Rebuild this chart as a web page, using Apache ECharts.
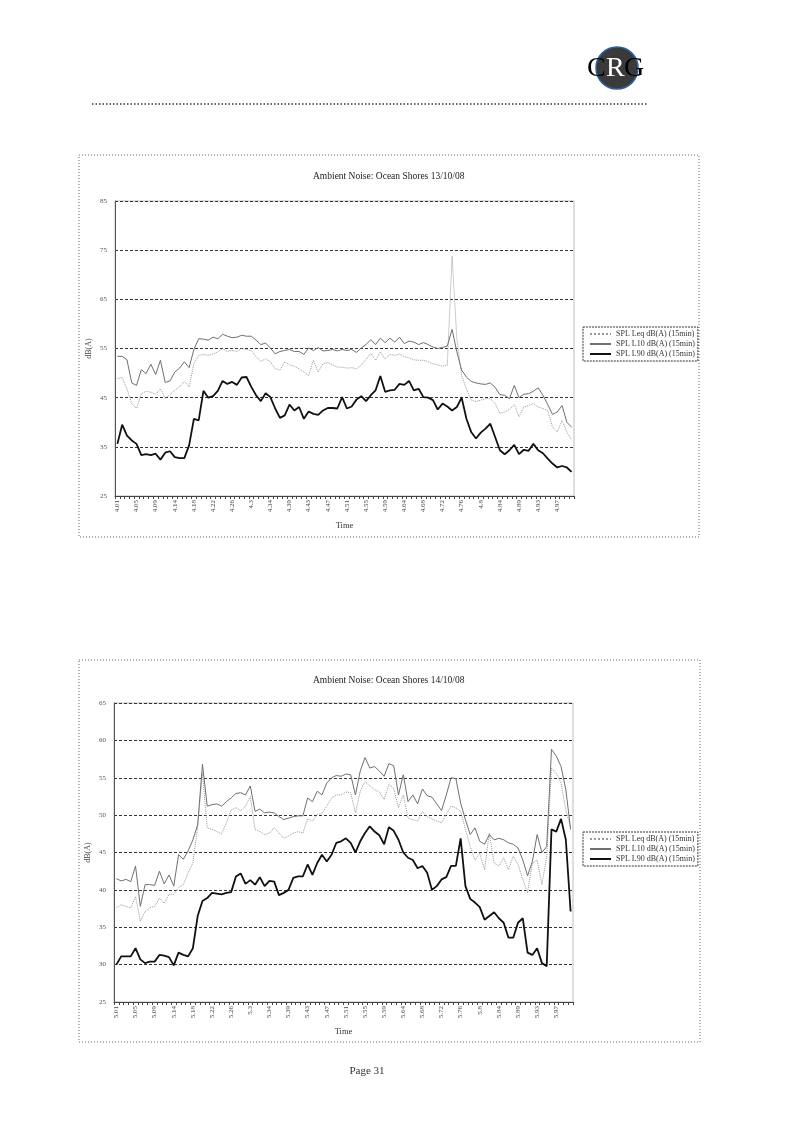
<!DOCTYPE html>
<html>
<head>
<meta charset="utf-8">
<script src="https://cdn.jsdelivr.net/npm/echarts@6/dist/echarts.min.js"></script>
<style>
html,body{margin:0;padding:0;background:#fff;}
#page{width:797px;height:1126px;}
</style>
</head>
<body>
<div id="page"></div>
<script>
// ---------- data ----------
const times1 = ["4.01","4.02","4.03","4.04","4.05","4.06","4.07","4.08","4.09","4.1","4.11","4.13","4.14","4.15","4.16","4.17","4.18","4.19","4.2","4.21","4.22","4.23","4.24","4.25","4.26","4.27","4.28","4.29","4.3","4.31","4.32","4.33","4.34","4.35","4.36","4.38","4.39","4.4","4.41","4.42","4.43","4.44","4.45","4.46","4.47","4.48","4.49","4.5","4.51","4.52","4.53","4.54","4.55","4.56","4.57","4.58","4.59","4.6","4.61","4.63","4.64","4.65","4.66","4.67","4.68","4.69","4.7","4.71","4.72","4.73","4.74","4.75","4.76","4.77","4.78","4.79","4.8","4.81","4.82","4.83","4.84","4.85","4.86","4.88","4.89","4.9","4.91","4.92","4.93","4.94","4.95","4.96","4.97","4.98","4.99","5"];
const times2 = ["5.01","5.02","5.03","5.04","5.05","5.06","5.07","5.08","5.09","5.1","5.11","5.13","5.14","5.15","5.16","5.17","5.18","5.19","5.2","5.21","5.22","5.23","5.24","5.25","5.26","5.27","5.28","5.29","5.3","5.31","5.32","5.33","5.34","5.35","5.36","5.38","5.39","5.4","5.41","5.42","5.43","5.44","5.45","5.46","5.47","5.48","5.49","5.5","5.51","5.52","5.53","5.54","5.55","5.56","5.57","5.58","5.59","5.6","5.61","5.63","5.64","5.65","5.66","5.67","5.68","5.69","5.7","5.71","5.72","5.73","5.74","5.75","5.76","5.77","5.78","5.79","5.8","5.81","5.82","5.83","5.84","5.85","5.86","5.88","5.89","5.9","5.91","5.92","5.93","5.94","5.95","5.96","5.97","5.98","5.99","6"];

const leq1 = [48.9,49.1,46.8,43.8,42.8,45.8,46.3,46.1,45.7,46.8, 44.9,45.6,46.5,47.2,48.3,47.2,51.9,53.6,53.8,53.6, 53.9,54.3,55.0,54.4,54.6,54.4,55.0,54.8,54.6,53.3, 52.4,52.9,52.3,50.9,50.6,52.3,51.7,51.4,50.9,50.2, 49.5,52.6,50.2,51.9,52.1,51.7,51.2,51.2,51.0,51.1, 50.9,51.6,52.8,54.0,52.6,54.3,52.9,53.8,53.6,53.9, 53.3,53.1,52.7,52.6,52.6,52.3,51.9,51.7,51.4,51.6, 73.8,57.0,49.5,46.8,44.5,44.2,44.5,44.8,44.8,43.8, 41.8,42.1,42.6,43.6,41.1,43.1,43.4,43.8,43.1,42.8, 42.4,39.0,38.0,40.4,38.0,36.4];
const l10_1 = [53.4,53.4,52.7,48.0,47.5,50.7,49.9,51.8,49.7,52.6, 48.1,48.4,50.2,51.0,52.3,51.1,54.8,57.0,56.9,56.7, 57.3,57.0,57.9,57.5,57.2,57.3,57.7,57.5,57.5,56.7, 55.8,56.1,55.1,53.9,54.4,54.6,54.8,54.4,54.4,53.8, 55.1,54.6,55.2,54.5,54.6,54.8,54.5,54.8,54.6,54.8, 54.2,55.1,55.8,56.8,55.8,57.1,56.2,57.1,56.3,57.3, 56.0,56.5,56.3,55.8,56.2,55.8,55.3,55.0,55.2,55.5, 58.9,54.3,50.6,49.2,48.3,48.0,47.8,47.7,48.0,47.1, 45.6,45.5,44.8,47.5,45.0,45.7,45.8,46.3,47.0,45.5, 43.6,41.6,42.1,43.4,40.0,39.0];
const l90_1 = [35.6,39.5,37.3,36.3,35.6,33.3,33.5,33.3,33.6,32.4, 33.8,34.1,32.9,32.7,32.7,35.3,40.7,40.4,46.4,45.0, 45.3,46.4,48.4,47.8,48.2,47.6,49.1,49.2,47.2,45.5, 44.3,45.9,45.1,42.8,40.9,41.4,43.6,42.4,43.1,40.7, 42.2,41.7,41.5,42.4,42.9,42.9,42.8,45.1,42.8,43.2, 44.6,45.3,44.3,45.5,46.5,49.4,46.2,46.5,46.6,47.8, 47.6,48.4,46.5,46.8,45.1,45.0,44.5,42.6,43.8,43.2, 42.4,43.1,45.0,40.7,38.0,36.7,37.9,38.7,39.7,37.0, 34.3,33.5,34.3,35.4,33.5,34.4,34.2,35.6,34.3,33.7, 32.6,31.6,30.8,31.1,30.8,29.9];

const leq2 = [37.6,38.0,37.8,37.6,39.1,35.8,37.1,37.6,37.8,38.9, 38.2,39.4,39.4,40.3,40.7,42.3,43.6,48.5,55.6,48.3, 48.1,47.8,47.5,49.0,50.7,51.0,50.6,51.2,52.5,48.1, 47.8,47.4,47.6,48.3,47.6,46.9,47.2,47.6,47.8,47.6, 49.5,49.2,50.1,50.2,51.2,52.3,52.7,52.7,53.1,53.0, 50.3,53.2,54.5,53.9,53.4,53.1,52.1,54.1,53.6,51.0, 52.7,49.6,49.4,49.2,50.5,49.8,49.5,49.2,49.0,50.1, 51.2,51.0,50.5,48.1,45.8,44.0,44.9,42.7,47.6,43.6, 43.2,44.3,42.7,44.5,43.4,41.4,39.6,43.6,44.0,40.7, 44.5,56.3,55.6,54.3,50.7,48.3];
const l10_2 = [41.5,41.2,41.4,41.1,43.2,37.8,40.7,40.7,40.6,42.5, 40.8,42.0,40.5,44.7,44.1,45.2,46.7,48.7,56.8,51.2, 51.4,51.5,51.2,51.8,52.3,52.9,53.0,52.7,53.9,50.5, 50.8,50.3,50.4,50.3,49.8,49.4,49.6,49.8,49.9,49.9, 52.3,51.8,53.2,52.7,54.3,55.0,55.3,55.2,55.5,55.4, 52.7,55.9,57.7,56.3,56.5,55.9,55.2,56.9,56.6,52.7, 55.4,51.8,52.7,51.5,53.5,52.6,52.4,51.5,50.6,52.7, 55.0,54.9,51.6,49.4,47.4,48.3,46.5,46.1,47.4,46.7, 46.9,46.7,46.3,46.1,45.6,44.0,41.9,43.8,47.4,45.0, 45.8,58.8,57.9,56.5,53.4,48.1];
const l90_2 = [30.0,31.1,31.1,31.1,32.2,30.7,30.2,30.4,30.4,31.3, 31.2,31.0,29.9,31.6,31.3,31.1,32.2,36.5,38.5,38.9, 39.6,39.5,39.4,39.6,39.7,41.8,42.2,40.8,41.3,40.7, 41.7,40.5,41.2,41.1,39.3,39.6,40.0,41.6,41.8,41.8, 43.4,42.0,43.6,44.7,43.8,44.7,46.3,46.5,46.9,46.3, 45.0,46.5,47.6,48.5,47.8,47.3,46.1,48.4,47.9,46.7, 45.0,44.3,44.0,42.9,43.2,42.3,40.0,40.5,41.4,41.7, 43.2,43.2,46.9,40.5,38.8,38.3,37.7,36.0,36.5,37.0, 36.2,35.6,33.6,33.6,35.6,36.2,31.6,31.3,32.2,30.2, 29.8,48.1,47.8,49.5,46.7,37.1];

const seriesNames = ["SPL Leq dB(A) (15min)", "SPL L10 dB(A) (15min)", "SPL L90 dB(A) (15min)"];
const titles = ["Ambient Noise: Ocean Shores 13/10/08", "Ambient Noise: Ocean Shores 14/10/08"];

// ---------- chart ----------
const FONT = "'Liberation Serif', 'DejaVu Serif', serif";
const chart = echarts.init(document.getElementById('page'), null, {renderer: 'canvas', width: 797, height: 1126});

function xAxis(idx, cats) {
  return {
    type: 'category', gridIndex: idx, data: cats, boundaryGap: true,
    name: 'Time', nameLocation: 'middle', nameGap: 25, nameMoveOverlap: false,
    nameTextStyle: {fontFamily: FONT, fontSize: 8.5, color: '#333'},
    axisLine: {lineStyle: {color: '#444', width: 1}},
    axisTick: {show: true, interval: 0, length: 3, lineStyle: {color: '#444'}},
    axisLabel: {interval: 3, rotate: 90, fontFamily: FONT, fontSize: 7, color: '#444', margin: 4},
    splitLine: {show: false}
  };
}
function yAxis(idx, min, max, step) {
  return {
    type: 'value', gridIndex: idx, min: min, max: max, interval: step,
    name: 'dB(A)', nameLocation: 'middle', nameGap: 22, nameMoveOverlap: false,
    nameTextStyle: {fontFamily: FONT, fontSize: 8, color: '#444'},
    axisLine: {show: true, lineStyle: {color: '#555', width: 1}},
    axisTick: {show: false},
    axisLabel: {fontFamily: FONT, fontSize: 7, color: '#555', margin: 8},
    splitLine: {show: true, lineStyle: {color: '#333', width: 1, type: [3, 2]}}
  };
}
function lines(idx, leq, l10, l90) {
  return [
    {name: seriesNames[0], type: 'line', xAxisIndex: idx, yAxisIndex: idx, data: leq, symbol: 'none', silent: true,
     lineStyle: {color: '#9a9a9a', width: 1, type: 'dotted'}, itemStyle: {color: '#c8c8c8'}},
    {name: seriesNames[1], type: 'line', xAxisIndex: idx, yAxisIndex: idx, data: l10, symbol: 'none', silent: true,
     lineStyle: {color: '#707070', width: 1}, itemStyle: {color: '#707070'}},
    {name: seriesNames[2], type: 'line', xAxisIndex: idx, yAxisIndex: idx, data: l90, symbol: 'none', silent: true,
     lineStyle: {color: '#111', width: 1.8}, itemStyle: {color: '#111'}}
  ];
}
function legend(top) {
  return {
    orient: 'vertical', left: 583, top: top, data: seriesNames,
    itemWidth: 21, itemHeight: 8, itemGap: 2, selectedMode: false,
    itemStyle: {opacity: 0, borderWidth: 0},
    padding: [3, 3, 3, 6], borderColor: '#333', borderWidth: 1, borderType: [2, 1],
    textStyle: {fontFamily: FONT, fontSize: 8, color: '#333'}
  };
}

const option = {
  backgroundColor: '#fff',
  animation: false,
  title: [
    {text: titles[0], left: 308, top: 166, textStyle: {fontFamily: FONT, fontSize: 9.5, fontWeight: 'normal', color: '#222'}},
    {text: titles[1], left: 308, top: 670, textStyle: {fontFamily: FONT, fontSize: 9.5, fontWeight: 'normal', color: '#222'}}
  ],
  legend: [legend(327), legend(832)],
  grid: [
    {left: 115, top: 201, width: 459, height: 295, show: true, borderColor: '#bdbdbd', borderWidth: 1, backgroundColor: 'transparent'},
    {left: 114, top: 703, width: 459, height: 299, show: true, borderColor: '#bdbdbd', borderWidth: 1, backgroundColor: 'transparent'}
  ],
  xAxis: [xAxis(0, times1), xAxis(1, times2)],
  yAxis: [yAxis(0, 25, 85, 10), yAxis(1, 25, 65, 5)],
  series: [].concat(lines(0, leq1, l10_1, l90_1), lines(1, leq2, l10_2, l90_2)),
  graphic: [
    // chart frames
    {type: 'rect', shape: {x: 79, y: 155, width: 620, height: 382}, style: {fill: 'none', stroke: '#666', lineWidth: 1, lineDash: [1, 2]}, silent: true, z: -1},
    {type: 'rect', shape: {x: 79, y: 660, width: 621, height: 382}, style: {fill: 'none', stroke: '#666', lineWidth: 1, lineDash: [1, 2]}, silent: true, z: -1},
    // header rule
    {type: 'line', shape: {x1: 92, y1: 104, x2: 648, y2: 104}, style: {stroke: '#333', lineWidth: 1.5, lineDash: [1.5, 2]}, silent: true},
    // logo
    {type: 'circle', shape: {cx: 617, cy: 68, r: 21}, style: {fill: '#3a3a3a', stroke: '#2f5f9f', lineWidth: 1.5}, silent: true, z: 10},
    {type: 'text', style: {text: 'C', x: 587, y: 69, font: "28px 'Liberation Serif'", fill: '#000', textVerticalAlign: 'middle'}, silent: true, z: 11},
    {type: 'text', style: {text: 'R', x: 606, y: 69, font: "28px 'Liberation Serif'", fill: '#fff', textVerticalAlign: 'middle'}, silent: true, z: 11},
    {type: 'text', style: {text: 'G', x: 624, y: 69, font: "28px 'Liberation Serif'", fill: '#000', textVerticalAlign: 'middle'}, silent: true, z: 11},
    // footer
    {type: 'text', style: {text: 'Page 31', x: 367, y: 1071, font: "11px 'Liberation Serif'", fill: '#333', textAlign: 'center', textVerticalAlign: 'middle'}, silent: true}
  ]
};
chart.setOption(option);
</script>
</body>
</html>
